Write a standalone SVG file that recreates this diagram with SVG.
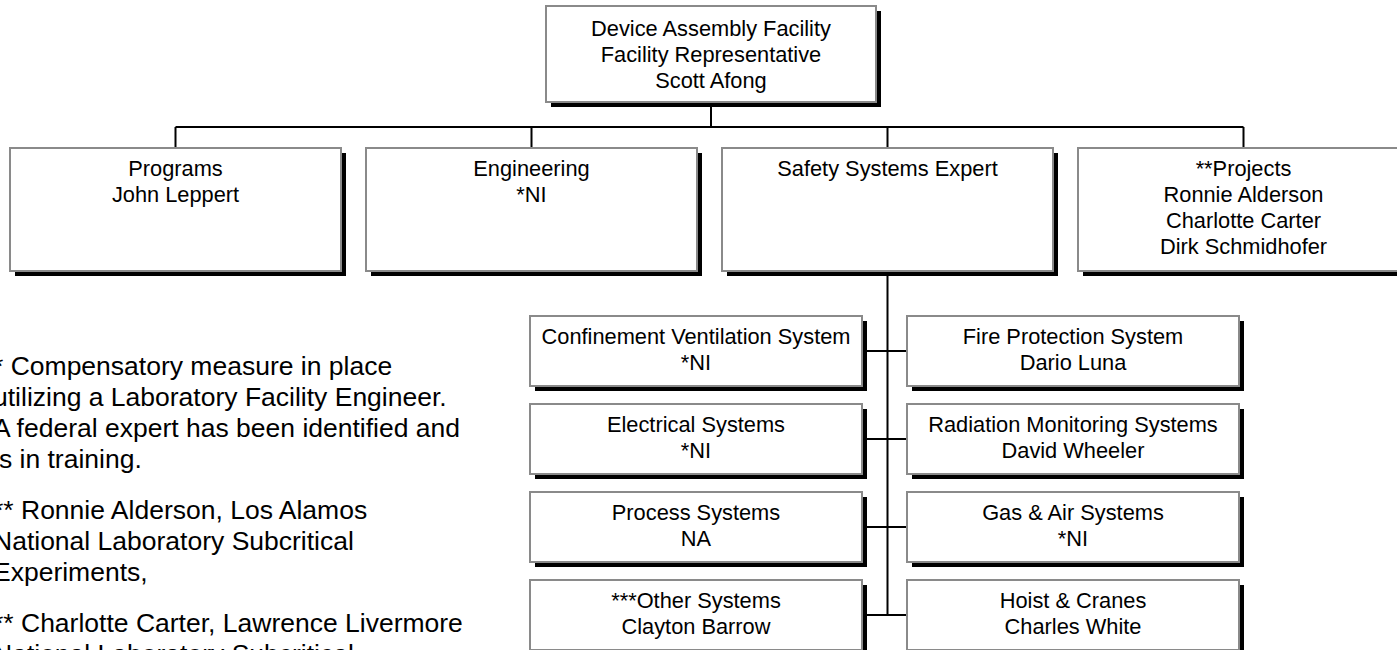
<svg xmlns="http://www.w3.org/2000/svg" width="1397" height="650" viewBox="0 0 1397 650">
<style>
.sh{fill:#000}
.bx{fill:#fff;stroke:#8a8a8a;stroke-width:2}
.t{font-family:"Liberation Sans",Arial,sans-serif;font-size:21.8px;fill:#000;text-anchor:middle}
.n{font-family:"Liberation Sans",Arial,sans-serif;font-size:26.5px;fill:#000}
.c{stroke:#000;stroke-width:2;fill:none}
</style>
<rect width="1397" height="650" fill="#fff"/>
<g id="connectors" class="c">
<path d="M711 102V127M175.5 127H1243.5M175.5 127V148M531.5 127V148M887.5 127V148M1243.5 127V148M887.5 271V615M862 351H907M862 439H907M862 527H907M862 615H907"/>
</g>
<g id="facility">
<rect class="sh" x="551" y="11" width="330" height="96"/>
<rect class="bx" x="546" y="6" width="330" height="96"/>
<text class="t" x="711" y="36">Device Assembly Facility</text>
<text class="t" x="711" y="62">Facility Representative</text>
<text class="t" x="711" y="88">Scott Afong</text>
</g>
<g id="programs">
<rect class="sh" x="15" y="153" width="331" height="123"/>
<rect class="bx" x="10" y="148" width="331" height="123"/>
<text class="t" x="175.5" y="176">Programs</text>
<text class="t" x="175.5" y="202">John Leppert</text>
</g>
<g id="engineering">
<rect class="sh" x="371" y="153" width="331" height="123"/>
<rect class="bx" x="366" y="148" width="331" height="123"/>
<text class="t" x="531.5" y="176">Engineering</text>
<text class="t" x="531.5" y="202">*NI</text>
</g>
<g id="safety">
<rect class="sh" x="727" y="153" width="331" height="123"/>
<rect class="bx" x="722" y="148" width="331" height="123"/>
<text class="t" x="887.5" y="176">Safety Systems Expert</text>
</g>
<g id="projects">
<rect class="sh" x="1083" y="153" width="331" height="123"/>
<rect class="bx" x="1078" y="148" width="331" height="123"/>
<text class="t" x="1243.5" y="176">**Projects</text>
<text class="t" x="1243.5" y="202">Ronnie Alderson</text>
<text class="t" x="1243.5" y="228">Charlotte Carter</text>
<text class="t" x="1243.5" y="254">Dirk Schmidhofer</text>
</g>
<g id="confinement">
<rect class="sh" x="535" y="321" width="332" height="70"/>
<rect class="bx" x="530" y="316" width="332" height="70"/>
<text class="t" x="696" y="344">Confinement Ventilation System</text>
<text class="t" x="696" y="370">*NI</text>
</g>
<g id="electrical">
<rect class="sh" x="535" y="409" width="332" height="70"/>
<rect class="bx" x="530" y="404" width="332" height="70"/>
<text class="t" x="696" y="432">Electrical Systems</text>
<text class="t" x="696" y="458">*NI</text>
</g>
<g id="process">
<rect class="sh" x="535" y="497" width="332" height="70"/>
<rect class="bx" x="530" y="492" width="332" height="70"/>
<text class="t" x="696" y="520">Process Systems</text>
<text class="t" x="696" y="546">NA</text>
</g>
<g id="other">
<rect class="sh" x="535" y="585" width="332" height="70"/>
<rect class="bx" x="530" y="580" width="332" height="70"/>
<text class="t" x="696" y="608">***Other Systems</text>
<text class="t" x="696" y="634">Clayton Barrow</text>
</g>
<g id="fire">
<rect class="sh" x="912" y="321" width="332" height="70"/>
<rect class="bx" x="907" y="316" width="332" height="70"/>
<text class="t" x="1073" y="344">Fire Protection System</text>
<text class="t" x="1073" y="370">Dario Luna</text>
</g>
<g id="radiation">
<rect class="sh" x="912" y="409" width="332" height="70"/>
<rect class="bx" x="907" y="404" width="332" height="70"/>
<text class="t" x="1073" y="432">Radiation Monitoring Systems</text>
<text class="t" x="1073" y="458">David Wheeler</text>
</g>
<g id="gas">
<rect class="sh" x="912" y="497" width="332" height="70"/>
<rect class="bx" x="907" y="492" width="332" height="70"/>
<text class="t" x="1073" y="520">Gas &amp; Air Systems</text>
<text class="t" x="1073" y="546">*NI</text>
</g>
<g id="hoist">
<rect class="sh" x="912" y="585" width="332" height="70"/>
<rect class="bx" x="907" y="580" width="332" height="70"/>
<text class="t" x="1073" y="608">Hoist &amp; Cranes</text>
<text class="t" x="1073" y="634">Charles White</text>
</g>
<g id="notes" class="n">
<text x="-7" y="375">* Compensatory measure in place</text>
<text x="-7" y="406">utilizing a Laboratory Facility Engineer.</text>
<text x="-7" y="437">A federal expert has been identified and</text>
<text x="-7" y="468">is in training.</text>
<text x="-7" y="519">** Ronnie Alderson, Los Alamos</text>
<text x="-7" y="550">National Laboratory Subcritical</text>
<text x="-7" y="581">Experiments,</text>
<text x="-7" y="632">** Charlotte Carter, Lawrence Livermore</text>
<text x="-7" y="663">National Laboratory Subcritical</text>
</g>
</svg>
